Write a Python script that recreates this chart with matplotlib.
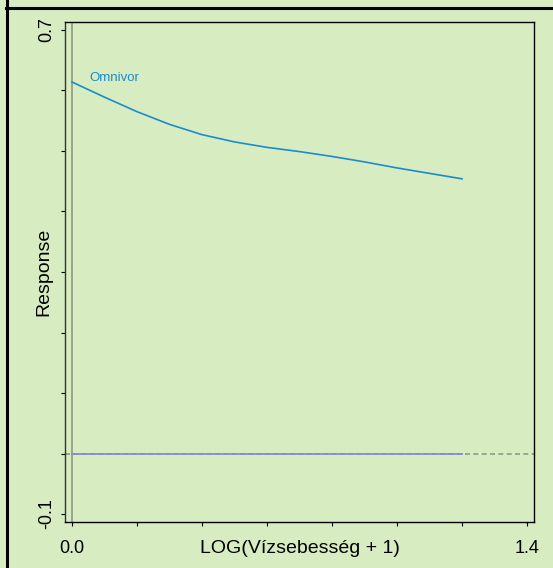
import numpy as np
import matplotlib.pyplot as plt
from matplotlib.lines import Line2D

plt.rcParams['font.family'] = ['Liberation Sans', 'DejaVu Sans']

# response curve
x_omni = [0.0, 0.1, 0.2, 0.3, 0.4, 0.5, 0.6, 0.7, 0.8, 0.9, 1.0, 1.1, 1.2]
y_omni = [0.614, 0.589, 0.565, 0.544, 0.527, 0.515, 0.506, 0.499, 0.491, 0.482, 0.472, 0.463, 0.454]
x_zero = [0.0, 1.2]
y_zero = [0.0, 0.0]
xticks = [0.0, 0.2, 0.4, 0.6, 0.8, 1.0, 1.2, 1.4]
xticklabels = ['0.0', '', '', '', '', '', '', '1.4']
yticks = [-0.1, 0.0, 0.1, 0.2, 0.3, 0.4, 0.5, 0.6, 0.7]
yticklabels = ['-0.1', '', '', '', '', '', '', '', '0.7']

bg = '#d7edc1'
fig = plt.figure(figsize=(5.53, 5.68), dpi=100, facecolor=bg)
ax = fig.add_axes([65/553, 1-522/568, (534-65)/553, (522-22)/568], facecolor=bg)

# outer frame lines
fig.add_artist(Line2D([6.5/553, 6.5/553], [0, 1], color='black', lw=2.2, transform=fig.transFigure))
fig.add_artist(Line2D([6/553, 1], [1-7.5/568, 1-7.5/568], color='black', lw=2.2, transform=fig.transFigure))

ax.axvline(0, color='#8c9a84', lw=1.2, zorder=1)
ax.axhline(0, color='#8c9a84', lw=1.2, ls=(0, (3, 2)), zorder=1)
ax.plot(x_zero, y_zero, color='#8a8ccc', lw=1.3, zorder=2)
ax.plot(x_omni, y_omni, color='#1a8ccc', lw=1.2, zorder=3)
ax.text(0.052, 0.621, 'Omnivor', color='#1a8ccc', fontsize=9.5, va='center', ha='left')

ax.set_xlim(-0.0215, 1.4215)
ax.set_ylim(-0.1132, 0.7132)
ax.set_xticks(xticks)
ax.set_xticklabels(xticklabels)
ax.set_yticks(yticks)
ax.set_yticklabels(yticklabels, rotation=90, va='center')
ax.tick_params(direction='out', length=3, width=0.8, labelsize=13)
ax.tick_params(axis='x', pad=10)
ax.tick_params(axis='y', pad=4)
ax.set_xlabel('LOG(Vízsebesség + 1)', fontsize=14, labelpad=-12)
ax.set_ylabel('Response', fontsize=14, labelpad=-10)
for s in ax.spines.values():
    s.set_linewidth(1.0)
ax.spines['left'].set_color('#333333')

fig.savefig('out.png', dpi=100, facecolor=bg)
